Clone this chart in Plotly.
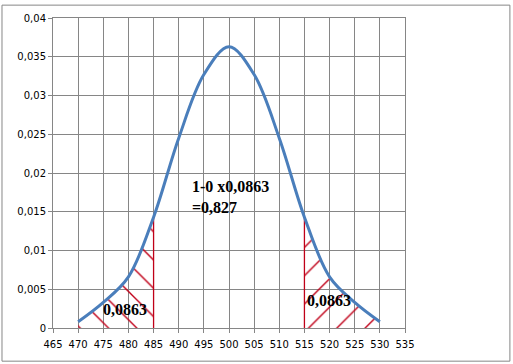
import plotly.graph_objects as go

# Data
x_vals = [470, 475, 480, 485, 490, 495, 500, 505, 510, 515, 520, 525, 530]
y_vals = [0.0008, 0.0033, 0.0066, 0.0143, 0.0245, 0.0327, 0.0363,
          0.0327, 0.0245, 0.0143, 0.0066, 0.0033, 0.0008]
x_ticks = list(range(465, 540, 5))
left_tail_end = 3    # index of 485
right_tail_start = 9  # index of 515
tail_label = "0,0863"
center_label_1 = "1-0 x0,0863"
center_label_2 = "=0,827"

curve_color = "#4A7EBB"
hatch_color = "#C00018"
grid_color = "#868686"
smooth = 1.0

fig = go.Figure()

# Hatched tails
fig.add_trace(go.Scatter(
    x=x_vals[:left_tail_end + 1], y=y_vals[:left_tail_end + 1],
    mode="lines", line=dict(width=0, shape="spline", smoothing=smooth, color=hatch_color),
    fill="tozeroy", fillcolor="rgba(0,0,0,0)",
    fillpattern=dict(shape="\\", fgcolor=hatch_color, bgcolor="rgba(0,0,0,0)",
                     fgopacity=1, size=20, solidity=0.07),
    hoverinfo="skip", showlegend=False))
fig.add_trace(go.Scatter(
    x=x_vals[right_tail_start:], y=y_vals[right_tail_start:],
    mode="lines", line=dict(width=0, shape="spline", smoothing=smooth, color=hatch_color),
    fill="tozeroy", fillcolor="rgba(0,0,0,0)",
    fillpattern=dict(shape="/", fgcolor=hatch_color, bgcolor="rgba(0,0,0,0)",
                     fgopacity=1, size=20, solidity=0.07),
    hoverinfo="skip", showlegend=False))

# Vertical boundary lines
for i in (left_tail_end, right_tail_start):
    fig.add_trace(go.Scatter(
        x=[x_vals[i], x_vals[i]], y=[0, y_vals[i]],
        mode="lines", line=dict(width=1.3, color=hatch_color),
        hoverinfo="skip", showlegend=False))

# Main curve
fig.add_trace(go.Scatter(
    x=x_vals, y=y_vals, mode="lines",
    line=dict(width=3, color=curve_color, shape="spline", smoothing=smooth),
    showlegend=False))

ann_font = dict(family="Liberation Serif", size=16, color="black")
fig.add_annotation(x=479.4, y=0.0024, text="<b>%s</b>" % tail_label,
                   showarrow=False, font=ann_font)
fig.add_annotation(x=519.9, y=0.0035, text="<b>%s</b>" % tail_label,
                   showarrow=False, font=ann_font)
fig.add_annotation(x=492.3, y=0.0182, text="<b>%s</b>" % center_label_1,
                   showarrow=False, font=ann_font, xanchor="left")
fig.add_annotation(x=492.3, y=0.0156, text="<b>%s</b>" % center_label_2,
                   showarrow=False, font=ann_font, xanchor="left")

# Outer chart border
fig.add_shape(type="rect", xref="paper", yref="paper",
              x0=-0.1449, x1=1.298, y0=-0.107, y1=1.0415,
              line=dict(color=grid_color, width=1))

axis_common = dict(showgrid=True, gridcolor=grid_color, gridwidth=1,
                   showline=True, linecolor=grid_color, linewidth=1, mirror=True,
                   ticks="outside", ticklen=4, tickcolor=grid_color,
                   zeroline=False,
                   tickfont=dict(family="DejaVu Sans", size=10, color="black"))

fig.update_xaxes(range=[465, 535], tickvals=x_ticks, ticklabelstandoff=3,
                 **axis_common)
fig.update_yaxes(range=[0, 0.04], dtick=0.005, **axis_common)

fig.update_layout(
    width=513, height=364,
    margin=dict(l=53, r=108, t=15, b=36),
    paper_bgcolor="white", plot_bgcolor="white",
    separators=", ",
    showlegend=False,
)

fig.write_html("out.html", config={"displayModeBar": False},
               post_script="document.body.style.margin='0';document.body.style.padding='0';")
